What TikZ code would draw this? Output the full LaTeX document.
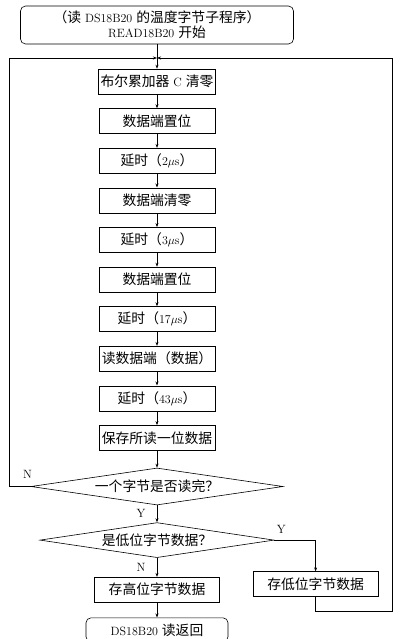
\documentclass[tikz,border=0pt]{standalone}
\usepackage{fontspec}
\newfontfamily\zhfont[Scale=1.15]{Noto Sans CJK SC}
\newcommand{\zh}[1]{{\zhfont #1}}
\usepackage{tikz}
\usetikzlibrary{arrows.meta, positioning, calc, shapes.geometric}

\begin{document}
\begin{tikzpicture}[>={Stealth[length=4pt,width=3pt]}, node distance=14pt, x=1pt, y=1pt,
            line width=0.6pt, font=\fontsize{12}{15}\selectfont,
            box/.style={draw, rectangle, minimum height=25pt, minimum width=116pt, inner sep=2pt},
            term/.style={draw, rectangle, rounded corners=5pt, inner sep=2pt},
            cond/.style={draw, diamond, inner sep=0pt, aspect=6.8}]

            \useasboundingbox (0,0) rectangle (412,-639);

            \node[term, minimum width=273pt, minimum height=38pt, align=center] (start) at (157,-25)
                {\zh{（读} DS18B20 \zh{的温度字节子程序）}\\ READ18B20 \zh{开始}};
            \node[box] (clr) at (157,-81.5) {\zh{布尔累加器} C \zh{清零}};
            \node[box, below=of clr] (set1) {\zh{数据端置位}};
            \node[box, below=of set1] (dly1) {\zh{延时（}2$\mu$s\zh{）}};
            \node[box, below=of dly1] (rst) {\zh{数据端清零}};
            \node[box, below=of rst] (dly2) {\zh{延时（}3$\mu$s\zh{）}};
            \node[box, below=of dly2] (set2) {\zh{数据端置位}};
            \node[box, below=of set2] (dly3) {\zh{延时（}17$\mu$s\zh{）}};
            \node[box, below=of dly3] (rd) {\zh{读数据端（数据）}};
            \node[box, below=of rd] (dly4) {\zh{延时（}43$\mu$s\zh{）}};
            \node[box, below=of dly4] (save) {\zh{保存所读一位数据}};
            \node[cond, minimum width=252pt, minimum height=37pt, below=17pt of save] (full) {\zh{一个字节是否读完？}};
            \node[cond, minimum width=234pt, minimum height=35pt, below=17pt of full] (low) {\zh{是低位字节数据？}};
            \node[box, minimum width=125pt, below=19pt of low] (hi) {\zh{存高位字节数据}};
            \node[term, minimum width=142pt, minimum height=24pt, below=15pt of hi] (ret) {DS18B20 \zh{读返回}};
            \node[box, minimum width=125pt, right=33pt of hi, yshift=5.5pt] (lo) {\zh{存低位字节数据}};

            % loop corners
            \coordinate (merge) at (start.south |- 0,-58);
            \coordinate (lft) at (9,-58);
            \coordinate (rgt) at (392,-58);

            \draw[->] (start) -- (clr);
            \foreach \a/\b in {clr/set1, set1/dly1, dly1/rst, rst/dly2, dly2/set2,
                               set2/dly3, dly3/rd, rd/dly4, dly4/save, save/full}
                \draw[->] (\a) -- (\b);
            \draw[->] (full) -- node[left=8pt] {Y} (low);
            \draw[->] (low) -- node[left=8pt] {N} (hi);
            \draw[->] (hi) -- (ret);
            \draw[->] (full.west) -- node[pos=0.15, above=4pt] {N} (full.west -| lft) -- (lft) -- (merge);
            \draw[->] (low.east) -- node[pos=0.17, above=3pt] {Y} (low.east -| lo) -- (lo);
            \draw[->] (lo) -- (lo |- 0,-611) -| (rgt) -- (merge);
        \end{tikzpicture}
\end{document}
